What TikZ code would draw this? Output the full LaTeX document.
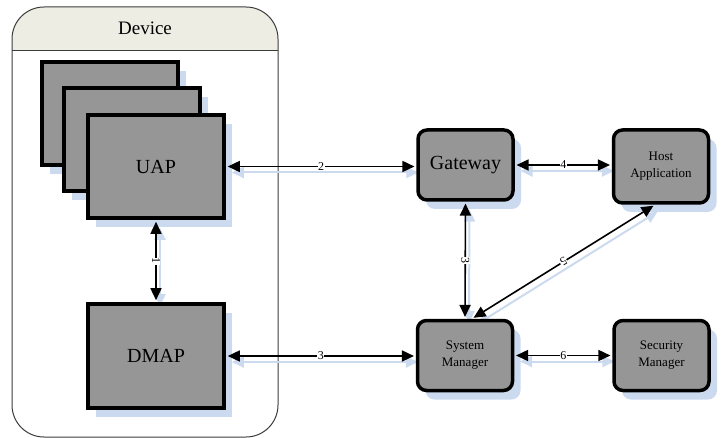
\documentclass[tikz,border=0pt]{standalone}
\usepackage{fontspec}
\setmainfont{Liberation Serif}
\usetikzlibrary{arrows.meta,shadows,calc}
\definecolor{boxgray}{RGB}{150,150,150}
\definecolor{shadowblue}{RGB}{204,218,239}
\definecolor{headerfill}{RGB}{237,237,227}
\definecolor{framegray}{RGB}{60,60,60}
\pgfdeclarelayer{back}
\pgfdeclarelayer{background}
\pgfsetlayers{back,background,main}

\begin{document}
\begin{tikzpicture}[x=1pt,y=-1pt,
  boxshadow/.style={drop shadow={shadow xshift=8pt, shadow yshift=-9pt, fill=shadowblue, opacity=1}},
  appbox/.style={draw=black, line width=4pt, fill=boxgray, minimum width=136pt,
    minimum height=103pt, inner sep=0pt, font=\fontsize{20}{24}\selectfont, boxshadow},
  netbox/.style={draw=black, line width=3.5pt, fill=boxgray, rounded corners=9pt,
    minimum width=95pt, minimum height=70pt, inner sep=0pt, align=center,
    font=\fontsize{13}{17}\selectfont, boxshadow},
  link/.style={line width=1.6pt, shorten >=1.8pt, shorten <=1.8pt,
    {Triangle[length=12pt,width=11pt]}-{Triangle[length=12pt,width=11pt]}},
  linkshadow/.style={link, line width=2pt, draw=shadowblue, fill=shadowblue, transform canvas={shift={(4pt,-6pt)}}},
  tag/.style={fill=white, inner sep=0.5pt, font=\fontsize{12}{13}\selectfont}
]
\useasboundingbox (0,0) rectangle (722,438);

% device container with its title band
\begin{pgfonlayer}{back}
  \begin{scope}
    \clip[rounded corners=32pt] (12,7) rectangle (278,437);
    \fill[headerfill] (12,7) rectangle (278,50.7);
  \end{scope}
  \draw[framegray, line width=0.9pt] (12,50.7) -- (278,50.7);
  \draw[framegray, line width=1pt, rounded corners=32pt] (12,7) rectangle (278,437);
\end{pgfonlayer}
\node[font=\fontsize{19}{22}\selectfont] (devtitle) at (145,28) {Device};

% application processes inside the device
\node[appbox] (uapC) at (110,114) {};
\node[appbox] (uapB) at (131.5,140) {};
\node[appbox] (uap) at (156,166.5) {UAP};
\node[appbox, minimum height=104pt] (dmap) at (156,356) {DMAP};

% network-side components
\node[netbox, font=\fontsize{20}{24}\selectfont] (gw) at (465.5,165) {Gateway};
\node[netbox, minimum height=73pt] (host) at (661,166.5) {Host\\Application};
\node[netbox] (sm) at (465,355.5) {System\\Manager};
\node[netbox] (sec) at (661.5,355.5) {Security\\Manager};

\coordinate (hostfoot) at ($(host.south)+(-6,0)$);
\coordinate (smtop) at ($(sm.north)+(7,0)$);

% connector shadows
\begin{pgfonlayer}{background}
  \draw[linkshadow] (uap.east) -- (uap.east -| gw.west);
  \draw[linkshadow] (dmap.east) -- (dmap.east -| sm.west);
  \draw[linkshadow] (uap.south) -- (dmap.north);
  \draw[linkshadow] (gw.east) -- (host.west |- gw.east);
  \draw[linkshadow] (gw.south) -- (sm.north);
  \draw[linkshadow] (hostfoot) -- (smtop);
  \draw[linkshadow] (sm.east) -- (sec.west);
\end{pgfonlayer}

% connectors
\draw[link] (uap.east) -- node[tag]{2} (uap.east -| gw.west);
\draw[link] (dmap.east) -- node[tag]{3} (dmap.east -| sm.west);
\draw[link] (uap.south) -- node[tag, rotate=-90]{1} (dmap.north);
\draw[link] (gw.east) -- node[tag]{4} (host.west |- gw.east);
\draw[link] (gw.south) -- node[tag, rotate=-90]{3} (sm.north);
\draw[link] (hostfoot) -- node[tag, rotate=211.5]{5} (smtop);
\draw[link] (sm.east) -- node[tag]{6} (sec.west);
\end{tikzpicture}
\end{document}
